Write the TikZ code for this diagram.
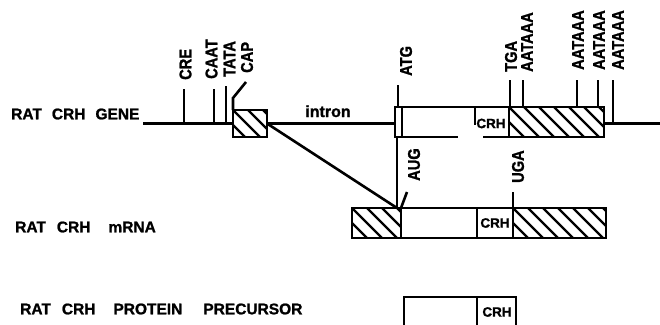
\documentclass[tikz,border=0pt]{standalone}
\usepackage{fontspec}
\setmainfont{Liberation Sans}
\newfontfamily\labfont{Liberation Sans}[BoldFeatures={FakeBold=1.3}]
\newfontfamily\rotfont{Liberation Sans}[BoldFeatures={FakeBold=1.3,FakeStretch=0.86}]
\tikzset{
  ln/.style={line width=2.6pt},
  hatch/.style={path picture={
      \foreach \k in {-45,-30,...,135}
        \draw[line width=2.3pt] ([xshift=\k pt]path picture bounding box.north west) -- ++(40pt,-40pt);
  }},
  boxn/.style={draw,line width=2.6pt,inner sep=0pt,outer sep=0pt},
  lab/.style={font=\labfont\bfseries\fontsize{15.5}{15.5}\selectfont, inner sep=0pt, anchor=west},
  rlab/.style={font=\rotfont\bfseries\fontsize{17}{17}\selectfont, inner sep=0pt, rotate=90, anchor=west},
  crh/.style={font=\labfont\bfseries\fontsize{13.5}{13.5}\selectfont, inner sep=0pt},
}
\begin{document}
\begin{tikzpicture}[x=1pt,y=-1pt]
\useasboundingbox (0,0) rectangle (660,324);

% ---------- row labels ----------
\node[lab] (lgene) at (11,114) {RAT\hspace{10pt}CRH\hspace{10pt}GENE};
\node[lab] (lmrna) at (15,227) {RAT\hspace{11pt}CRH\hspace{18pt}mRNA};
\node[lab] (lprot) at (20,309) {RAT\hspace{11pt}CRH\hspace{18pt}PROTEIN\hspace{21pt}PRECURSOR};

% ---------- gene ----------
\coordinate (g0) at (143,123.5);
\node[boxn,hatch,minimum width=34pt,minimum height=27pt] (ex1) at (250,123.5) {};
\node[boxn,minimum width=7pt,minimum height=30pt] (atgbox) at (398.5,122) {};
\draw[ln] (g0) -- (ex1.west);
\draw[ln] (ex1.east) -- (atgbox.west |- ex1.east);
\node[font=\labfont\bfseries\fontsize{16}{16}\selectfont,inner sep=0pt,anchor=base] (intron) at (328,117) {intron};

% exon 2 outline
\coordinate (e2tl) at (402,107);
\coordinate (e2tr) at (604,107);
\coordinate (e2br) at (604,137);
\coordinate (gapL) at (458,137);
\coordinate (gapR) at (483,137);
\draw[ln] (atgbox.north east) -- (e2tr) -- (e2br) -- (gapR);
\draw[ln] (atgbox.south east) -- (gapL);
\node[boxn,hatch,minimum width=95pt,minimum height=30pt] (utr3) at (556.5,122) {};
\coordinate (crhtick) at (475,125);
\draw[ln] (crhtick |- e2tl) -- (crhtick);
\node[crh] (crhg) at (491,123.5) {CRH};
\coordinate (g1) at (660,123.5);
\draw[ln] (utr3.east |- g1) -- (g1);

% ticks on gene
\coordinate (tCRE) at (184,89);
\coordinate (tCAAT) at (214,89);
\coordinate (tTATA) at (226,86);
\draw[ln] (tCRE) -- (tCRE |- g0);
\draw[ln] (tCAAT) -- (tCAAT |- g0);
\draw[ln] (tTATA) -- (tTATA |- g0);
\coordinate (tCAP) at (246,82);
\draw[ln] (ex1.north west) -- ++(0,-12) -- (tCAP);
\coordinate (tATG) at (398,85);
\draw[ln] (tATG) -- (tATG |- atgbox.north);
\coordinate (tTGA) at (510,80);
\coordinate (tA1) at (523,80);
\coordinate (tA2) at (577,80);
\coordinate (tA3) at (598,80);
\coordinate (tA4) at (613,80);
\draw[ln] (tTGA) -- (tTGA |- utr3.north);
\draw[ln] (tA1) -- (tA1 |- utr3.north);
\draw[ln] (tA2) -- (tA2 |- utr3.north);
\draw[ln] (tA3) -- (tA3 |- utr3.north);
\draw[ln] (tA4) -- (tA4 |- g1);

% gene labels
\node[rlab] (lCRE) at (185.5,80) {CRE};
\node[rlab] (lCAAT) at (211.5,79) {CAAT};
\node[rlab] (lTATA) at (229.5,77) {TATA};
\node[rlab] (lCAP) at (247,73) {CAP};
\node[rlab] (lATG) at (406,76) {ATG};
\node[rlab] (lTGA) at (511,72) {TGA};
\node[rlab] (lA1) at (527,72) {AATAAA};
\node[rlab] (lA2) at (578,70) {AATAAA};
\node[rlab] (lA3) at (599,70) {AATAAA};
\node[rlab] (lA4) at (618,70) {AATAAA};

% ---------- mRNA ----------
\node[boxn,hatch,minimum width=49pt,minimum height=30pt] (m5) at (376.5,223) {};
\node[boxn,minimum width=76pt,minimum height=30pt] (mcod) at (439,223) {};
\node[boxn,minimum width=36pt,minimum height=30pt,crh] (mcrh) at (495,223) {CRH};
\node[boxn,hatch,minimum width=93pt,minimum height=30pt] (m3) at (559.5,223) {};
\coordinate (join) at (397,208);
\draw[ln] (atgbox.south -| join) -- (join);
\draw[ln] (ex1.east) -- (join);
\coordinate (tAUG) at (407,192);
\draw[ln] (m5.north east) -- (tAUG);
\coordinate (tUGA) at (513,192);
\draw[ln] (tUGA) -- (tUGA |- m3.north);
\node[rlab] (lAUG) at (414,181) {AUG};
\node[rlab] (lUGA) at (518,183) {UGA};

% ---------- protein ----------
\coordinate (p0) at (404,330);
\coordinate (p1) at (404,297);
\coordinate (p2) at (516,297);
\coordinate (p3) at (516,330);
\coordinate (pd) at (477,297);
\draw[ln] (p0) -- (p1) -- (p2) -- (p3);
\draw[ln] (pd) -- (pd |- p0);
\node[crh] (pcrh) at (497,312) {CRH};
\end{tikzpicture}
\end{document}
